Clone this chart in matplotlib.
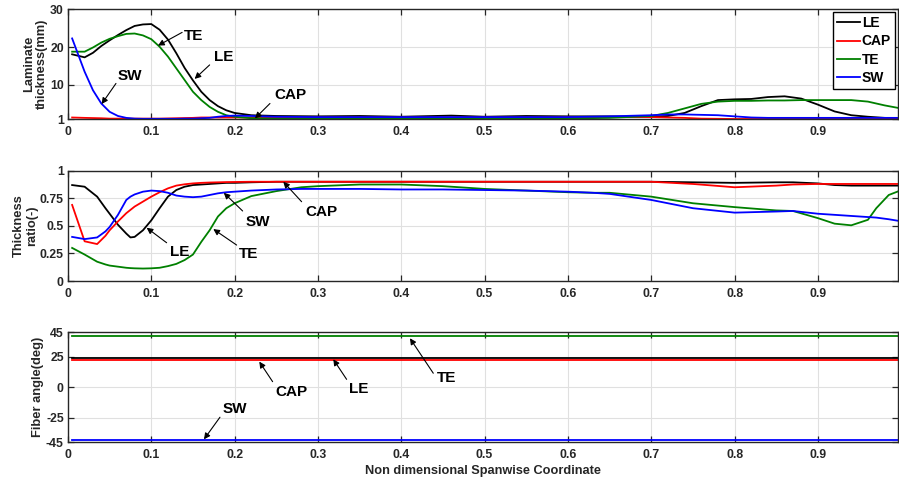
import numpy as np
import matplotlib
matplotlib.use('Agg')
import matplotlib.pyplot as plt
from matplotlib import rcParams

rcParams['font.family'] = ['Liberation Sans', 'DejaVu Sans']
rcParams['font.weight'] = 'bold'
rcParams['axes.labelweight'] = 'bold'
rcParams['axes.unicode_minus'] = False

# spanwise stations (non dimensional)
x_thk = [0.005, 0.02, 0.03, 0.04, 0.05, 0.06, 0.07, 0.08, 0.09, 0.1, 0.11, 0.12,
         0.13, 0.14, 0.15, 0.16, 0.17, 0.18, 0.19, 0.2, 0.22, 0.25, 0.3, 0.35,
         0.4, 0.46, 0.5, 0.55, 0.6, 0.65, 0.7, 0.72, 0.74, 0.76, 0.78, 0.8,
         0.82, 0.84, 0.86, 0.88, 0.9, 0.92, 0.94, 0.96, 0.98, 0.997]

# laminate thickness (mm)
thk_le = [18.1, 17.3, 18.5, 20.3, 21.8, 23.2, 24.5, 25.6, 26.0, 26.1, 24.6, 22.0,
          18.4, 14.5, 11.2, 8.2, 6.0, 4.4, 3.3, 2.6, 2.0, 1.8, 1.7, 1.8,
          1.6, 1.9, 1.6, 1.8, 1.7, 1.7, 1.6, 1.8, 2.6, 4.4, 6.0, 6.2,
          6.3, 6.8, 7.0, 6.4, 4.8, 3.0, 2.0, 1.6, 1.3, 1.2]
thk_cap = [1.4, 1.3, 1.25, 1.2, 1.1, 1.1, 1.1, 1.1, 1.1, 1.1, 1.1, 1.15,
           1.2, 1.25, 1.3, 1.4, 1.4, 1.4, 1.4, 1.4, 1.4, 1.4, 1.4, 1.4,
           1.4, 1.4, 1.4, 1.4, 1.45, 1.5, 1.5, 1.4, 1.3, 1.1, 1.05, 1.0,
           1.0, 1.0, 1.0, 1.0, 1.0, 1.0, 1.0, 1.0, 1.0, 1.0]
thk_te = [18.8, 18.8, 19.9, 21.2, 22.2, 22.9, 23.5, 23.6, 23.1, 22.1, 20.1, 17.5,
          14.4, 11.3, 8.2, 6.0, 4.2, 2.9, 2.0, 1.6, 1.2, 1.1, 1.1, 1.1,
          1.1, 1.1, 1.1, 1.1, 1.15, 1.3, 1.8, 2.6, 3.8, 5.0, 5.6, 5.8,
          5.8, 5.9, 5.9, 6.0, 6.0, 6.0, 6.0, 5.6, 4.6, 3.9]
thk_sw = [22.3, 13.5, 8.6, 5.1, 2.9, 1.8, 1.3, 1.1, 1.05, 1.05, 1.05, 1.05,
          1.05, 1.1, 1.1, 1.2, 1.3, 1.6, 1.8, 1.9, 1.8, 1.6, 1.5, 1.5,
          1.5, 1.5, 1.5, 1.5, 1.5, 1.7, 2.0, 2.2, 2.2, 2.1, 2.0, 1.7,
          1.4, 1.3, 1.3, 1.3, 1.3, 1.3, 1.3, 1.3, 1.3, 1.3]

x_rat = [0.005, 0.02, 0.035, 0.045, 0.05, 0.06, 0.07, 0.075, 0.08, 0.09, 0.1,
         0.11, 0.12, 0.13, 0.14, 0.15, 0.16, 0.17, 0.18, 0.19, 0.2, 0.22, 0.25,
         0.28, 0.3, 0.35, 0.4, 0.45, 0.5, 0.55, 0.6, 0.63, 0.65, 0.7, 0.75, 0.8,
         0.85, 0.87, 0.9, 0.92, 0.94, 0.96, 0.97, 0.985, 0.997]

# thickness ratio (-)
rat_le = [0.87, 0.855, 0.765, 0.66, 0.61, 0.51, 0.43, 0.395, 0.40, 0.46, 0.55,
          0.66, 0.765, 0.825, 0.855, 0.87, 0.875, 0.88, 0.885, 0.89, 0.89, 0.895, 0.9,
          0.9, 0.9, 0.9, 0.9, 0.9, 0.9, 0.9, 0.9, 0.9, 0.9, 0.9, 0.895, 0.89,
          0.895, 0.895, 0.885, 0.87, 0.865, 0.865, 0.865, 0.865, 0.865]
rat_cap = [0.69, 0.36, 0.335, 0.41, 0.46, 0.54, 0.615, 0.645, 0.675, 0.72, 0.765,
           0.805, 0.84, 0.865, 0.877, 0.885, 0.89, 0.893, 0.895, 0.897, 0.898, 0.9, 0.9,
           0.9, 0.9, 0.9, 0.9, 0.9, 0.9, 0.9, 0.9, 0.9, 0.9, 0.9, 0.88, 0.85,
           0.865, 0.875, 0.88, 0.88, 0.88, 0.88, 0.88, 0.88, 0.88]
rat_te = [0.30, 0.24, 0.175, 0.15, 0.14, 0.13, 0.12, 0.117, 0.115, 0.113, 0.115,
          0.12, 0.135, 0.155, 0.19, 0.24, 0.355, 0.46, 0.585, 0.66, 0.705, 0.77, 0.815,
          0.85, 0.86, 0.875, 0.875, 0.86, 0.835, 0.82, 0.805, 0.80, 0.80, 0.765, 0.705, 0.67,
          0.64, 0.635, 0.57, 0.52, 0.505, 0.555, 0.66, 0.78, 0.815]
rat_sw = [0.40, 0.38, 0.395, 0.45, 0.49, 0.60, 0.735, 0.765, 0.785, 0.81, 0.82,
          0.815, 0.80, 0.775, 0.765, 0.76, 0.765, 0.78, 0.795, 0.805, 0.81, 0.82, 0.83,
          0.835, 0.835, 0.835, 0.83, 0.83, 0.825, 0.82, 0.81, 0.80, 0.79, 0.735, 0.66, 0.62,
          0.63, 0.635, 0.61, 0.60, 0.59, 0.58, 0.575, 0.56, 0.545]

# fiber angles (deg), constant along the span
x_ang = [0.005, 0.997]
ang_le = 24
ang_cap = 22
ang_te = 42
ang_sw = -43

labels = ['LE', 'CAP', 'TE', 'SW']
colors = ['k', 'r', '#008000', 'b']
tick_c = '#262626'

fig = plt.figure(figsize=(8.99, 4.82), dpi=100)
W = 0.9232
ax1 = fig.add_axes([0.0756, 0.7531, W, 0.2276])
ax2 = fig.add_axes([0.0756, 0.4170, W, 0.2288])
ax3 = fig.add_axes([0.0756, 0.0824, W, 0.2282])

for y, c, l in zip([thk_le, thk_cap, thk_te, thk_sw], colors, labels):
    ax1.plot(x_thk, y, color=c, lw=1.3, label=l)
for y, c in zip([rat_le, rat_cap, rat_te, rat_sw], colors):
    ax2.plot(x_rat, y, color=c, lw=1.3)
for a, c in zip([ang_le, ang_cap, ang_te, ang_sw], colors):
    ax3.plot(x_ang, [a, a], color=c, lw=1.3)

ax1.set_ylim(1, 30)
ax1.set_yticks([1, 10, 20, 30])
ax2.set_ylim(0, 1)
ax2.set_yticks([0, 0.25, 0.5, 0.75, 1])
ax2.set_yticklabels(['0', '0.25', '0.5', '0.75', '1'])
ax3.set_ylim(-45, 45)
ax3.set_yticks([-45, -25, 0, 25, 45])

xt = np.round(np.arange(0, 1.0, 0.1), 1)
for ax in (ax1, ax2, ax3):
    ax.set_xlim(0, 0.996)
    ax.set_xticks(xt)
    ax.set_xticklabels(['0'] + ['%.1f' % v for v in xt[1:]])
    ax.grid(True, color='#e0e0e0', lw=0.8)
    ax.set_axisbelow(True)
    for s in ax.spines.values():
        s.set_color(tick_c)
        s.set_linewidth(1.0)
    ax.tick_params(direction='in', top=True, right=True, length=4, width=0.9,
                   colors=tick_c, labelsize=8.8)
    ax.tick_params(axis='x', pad=5)
    ax.tick_params(axis='y', pad=3)

ax1.set_ylabel('Laminate\nthickness(mm)', fontsize=9.3, color=tick_c, linespacing=1.15)
ax1.yaxis.set_label_coords(-0.024, 0.5)
ax2.set_ylabel('Thickness\nratio(-)', fontsize=9.3, color=tick_c, linespacing=1.15)
ax2.yaxis.set_label_coords(-0.036, 0.5)
ax3.set_ylabel('Fiber angle(deg)', fontsize=9.3, color=tick_c)
ax3.yaxis.set_label_coords(-0.029, 0.5)
ax3.set_xlabel('Non dimensional Spanwise Coordinate', fontsize=9.2, color=tick_c, labelpad=3)

leg = ax1.legend(loc='upper right', bbox_to_anchor=(1.0, 1.0), fontsize=10,
                 frameon=True, fancybox=False, framealpha=1, edgecolor='k',
                 handlelength=1.7, handletextpad=0.1, borderpad=0.3,
                 labelspacing=0.3, borderaxespad=0.2)
leg.get_frame().set_linewidth(1.0)
for t in leg.get_texts():
    t.set_fontweight('bold')

arrow = dict(arrowstyle='-|>', color='k', lw=0.8, mutation_scale=9,
             shrinkA=0, shrinkB=0)


def tag(ax, text, tx, ty, tail, head):
    ax.annotate('', xy=head, xytext=tail, arrowprops=arrow)
    ax.text(tx, ty, text, fontsize=11, fontweight='bold', color='k',
            ha='left', va='center')


# thickness panel
tag(ax1, 'TE', 0.139, 22.9, (0.137, 23.9), (0.108, 20.4))
tag(ax1, 'LE', 0.175, 17.5, (0.170, 15.3), (0.152, 11.6))
tag(ax1, 'SW', 0.060, 12.4, (0.0576, 10.4), (0.0404, 4.95))
tag(ax1, 'CAP', 0.248, 7.3, (0.2424, 5.1), (0.2244, 1.16))

# thickness ratio panel
tag(ax2, 'SW', 0.2136, 0.538, (0.2096, 0.635), (0.187, 0.80))
tag(ax2, 'LE', 0.1224, 0.266, (0.1184, 0.347), (0.0944, 0.483))
tag(ax2, 'TE', 0.2056, 0.245, (0.2024, 0.326), (0.1744, 0.471))
tag(ax2, 'CAP', 0.2844, 0.628, (0.2804, 0.719), (0.2584, 0.90))

# fiber angle panel
tag(ax3, 'CAP', 0.2484, -4.1, (0.2456, 4.6), (0.2296, 21.0))
tag(ax3, 'LE', 0.3376, -1.4, (0.3344, 6.5), (0.3184, 22.9))
tag(ax3, 'TE', 0.4428, 7.6, (0.4384, 11.5), (0.4104, 40.1))
tag(ax3, 'SW', 0.1856, -17.8, (0.1824, -24.5), (0.1632, -42.6))

fig.savefig('out.png', dpi=100)
